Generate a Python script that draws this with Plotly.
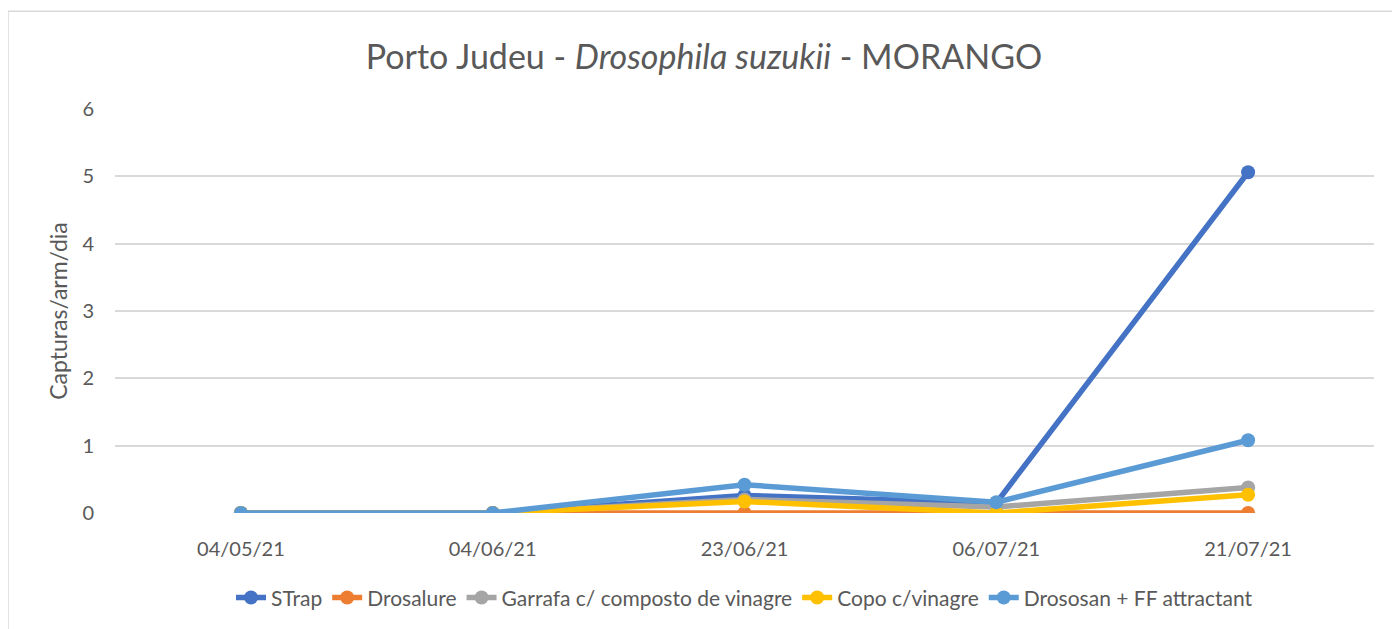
import plotly.graph_objects as go

dates = ["04/05/21", "04/06/21", "23/06/21", "06/07/21", "21/07/21"]
strap = [0, 0, 0.26, 0.15, 5.06]
drosalure = [0, 0, 0, 0, 0]
garrafa = [0, 0, 0.2, 0.09, 0.38]
copo = [0, 0, 0.17, 0, 0.27]
drososan = [0, 0, 0.42, 0.16, 1.08]

names = ["STrap", "Drosalure", "Garrafa c/ composto de vinagre", "Copo c/vinagre", "Drososan + FF attractant"]
colors = ["#4472C4", "#ED7D31", "#A5A5A5", "#FFC000", "#5B9BD5"]
series = [strap, drosalure, garrafa, copo, drososan]

FONT = "Lato, Open Sans, sans-serif"
GREY = "#595959"

fig = go.Figure()
for n, c, s in zip(names, colors, series):
    fig.add_trace(go.Scatter(x=dates, y=s, name=n, mode="lines+markers",
                             line=dict(color=c, width=5.5),
                             marker=dict(color=c, size=14)))

fig.update_layout(
    width=1392, height=621,
    paper_bgcolor="white", plot_bgcolor="white",
    font=dict(family=FONT, color=GREY, size=20),
    title=dict(text="Porto Judeu - <i>Drosophila suzukii</i> - MORANGO",
               x=0.5, xanchor="center", y=0.921, yanchor="middle",
               font=dict(size=34, color=GREY, family=FONT)),
    margin=dict(l=107, r=26, t=101, b=115),
    xaxis=dict(type="category", range=[-0.5, 4.5], showgrid=False, zeroline=False, showline=False,
               ticks="", ticklabelstandoff=22, tickfont=dict(size=20, color=GREY)),
    yaxis=dict(range=[0, 6], dtick=1, showgrid=True, gridcolor="#D9D9D9", gridwidth=1.5,
               zeroline=False, showline=False, ticks="", ticklabelstandoff=20,
               tickfont=dict(size=20, color=GREY),
               title=dict(text="Capturas/arm/dia", font=dict(size=23, color=GREY), standoff=8)),
    legend=dict(orientation="h", x=0.5, xanchor="center", y=-0.207, yanchor="middle",
                font=dict(size=21, color=GREY), traceorder="normal"),
    shapes=[dict(type="rect", xref="paper", yref="paper", x0=-0.085, x1=1.1, y0=-0.5, y1=1.242,
                 line=dict(color="#D9D9D9", width=1.5), fillcolor="rgba(0,0,0,0)", layer="below")],
)

fig.write_html("out.html")
